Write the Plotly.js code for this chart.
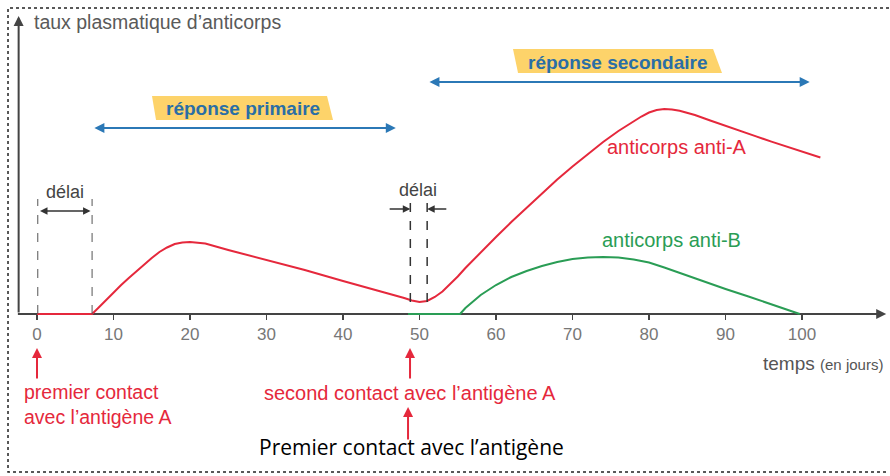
<!DOCTYPE html>
<html>
<head>
<meta charset="utf-8">
<script src="https://cdn.plot.ly/plotly-3.0.1.min.js"></script>
<style>html,body{margin:0;padding:0;background:#fff}#chart{width:890px;height:476px}</style>
</head>
<body>
<div id="chart"></div>
<script>
// Tick labels (days)
const tickDays = [0, 10, 20, 30, 40, 50, 60, 70, 80, 90, 100];

// Anti-A antibody curve (relative plasma level)
const antiA_x = [0, 7.2, 8, 9, 10, 11, 12, 13, 14, 15, 16, 17, 18, 19, 20, 21, 22, 25, 30, 35, 40, 45, 47, 48, 49, 50, 51, 52, 53, 54, 55, 56, 57, 58, 60, 62, 64, 66, 68, 70, 72, 74, 76, 78, 79, 80, 81, 82, 83, 84, 86, 88, 90, 92, 94, 96, 98, 100, 102.4];
const antiA_y = [0, 0, 6, 14, 21, 29, 36, 43, 50, 56, 62, 66.5, 70, 71.5, 72, 71.5, 70.5, 64, 54, 44, 33, 22.5, 18.5, 16, 13.5, 12, 13, 17, 22.5, 29.5, 37.5, 46, 54, 62, 77, 92, 106.5, 121, 134.5, 147.5, 160, 172, 183, 193, 197.5, 201.5, 204, 205, 204.6, 203.3, 199, 193.5, 188, 182.8, 177.6, 172.4, 167.2, 162, 156.5];

// Anti-B antibody curve
const antiB_x = [48.5, 55.3, 56, 57, 58, 59, 60, 62, 64, 66, 68, 70, 72, 74, 76, 78, 80, 82, 84, 87, 90, 93, 96, 99.7];
const antiB_y = [0, 0, 6, 13, 19, 24, 29, 37, 43, 48, 52, 55, 56.5, 57, 56.5, 54.5, 51.5, 46.5, 41, 33, 25, 17.5, 10, 0];

const RED = '#e5283c', GREEN = '#2a9d55', BLUE = '#2b78b6', YEL = '#fdd36a';
const F = 'Liberation Sans, Arial, sans-serif';

const traces = [
  {x: antiA_x, y: antiA_y, mode: 'lines', line: {color: RED, width: 2, shape: 'linear'}, hoverinfo: 'skip'},
  {x: antiB_x, y: antiB_y, mode: 'lines', line: {color: GREEN, width: 2, shape: 'linear'}, hoverinfo: 'skip'}
];

function arrow(x, y, ax, ay, color, width, both) {
  return {x: x, y: y, ax: ax, ay: ay, xref: 'x', yref: 'y', axref: 'x', ayref: 'y', text: '', showarrow: true,
    arrowhead: 2, arrowsize: 1, arrowwidth: width, arrowcolor: color, arrowside: both ? 'end+start' : 'end', standoff: 0, startstandoff: 0};
}
function txt(x, y, text, color, size, opts) {
  return Object.assign({x: x, y: y, xref: 'x', yref: 'y', text: text, showarrow: false, yanchor: 'middle',
    font: {family: F, size: size, color: color}}, opts || {});
}

const annotations = [
  // axes arrowheads
  arrow(111, 0, 104, 0, '#444', 2, false),
  arrow(-2.4, 298, -2.4, 0, '#444', 2, false),
  // blue response arrows
  arrow(46.9, 186, 7.3, 186, BLUE, 2, true),
  arrow(101, 232, 51.1, 232, BLUE, 2, true),
  // délai arrows
  arrow(7.0, 103, 0.2, 103, '#333', 1.5, true),
  arrow(48.8, 105, 45.9, 105, '#333', 1.5, false),
  arrow(51.0, 105, 53.7, 105, '#333', 1.5, false),
  // red contact arrows
  arrow(0, -34, 0, -66, RED, 2, false),
  arrow(48.76, -34, 48.76, -66, RED, 2, false),
  arrow(48.5, -93, 48.5, -127, RED, 2, false),
  // texts
  txt(-0.65, 292, "taux plasmatique d’anticorps", '#5a5a5a', 19.5, {xanchor: 'left'}),
  txt(26.9, 206, '<b>réponse primaire</b>', '#2a6ea6', 19),
  txt(76.0, 252, '<b>réponse secondaire</b>', '#2a6ea6', 19),
  txt(3.7, 122, 'délai', '#444', 18),
  txt(49.8, 124, 'délai', '#444', 18),
  txt(83.6, 167, 'anticorps anti-A', RED, 20),
  txt(82.9, 74, 'anticorps anti-B', GREEN, 20),
  txt(110.9, -49, 'temps <span style="font-size:15px">(en jours)</span>', '#555', 19, {xanchor: 'right'}),
  txt(-2.0, -90.5, 'premier contact<br>avec l’antigène A', RED, 19.5, {xanchor: 'left', align: 'left'}),
  txt(48.8, -79, 'second contact avec l’antigène A', RED, 20),
  txt(49.0, -133, 'Premier contact avec l’antigène', '#000', 21, {font: {family: 'Open Sans, sans-serif', size: 21, color: '#000'}})
];

const shapes = [
  // x axis line (below traces)
  {type: 'line', xref: 'x', yref: 'y', x0: -2.5, x1: 110, y0: 0, y1: 0, line: {color: '#444', width: 2}, layer: 'below'},
  // délai dashed lines
  {type: 'line', xref: 'x', yref: 'y', x0: 0.1, x1: 0.1, y0: 0, y1: 115, line: {color: '#555', width: 1, dash: 'dash'}},
  {type: 'line', xref: 'x', yref: 'y', x0: 7.2, x1: 7.2, y0: 0, y1: 115, line: {color: '#555', width: 1, dash: 'dash'}},
  {type: 'line', xref: 'x', yref: 'y', x0: 48.8, x1: 48.8, y0: 12, y1: 114, line: {color: '#333', width: 1.5, dash: 'dash'}},
  {type: 'line', xref: 'x', yref: 'y', x0: 51.0, x1: 51.0, y0: 12, y1: 114, line: {color: '#333', width: 1.5, dash: 'dash'}},
  // yellow label backgrounds
  {type: 'path', xref: 'x', yref: 'y', path: 'M 15.03 218 L 37.91 218 L 38.69 194 L 15.56 194 Z', fillcolor: YEL, line: {width: 0}, layer: 'below'},
  {type: 'path', xref: 'x', yref: 'y', path: 'M 62.22 265 L 88.37 265 L 89.54 241 L 62.88 241 Z', fillcolor: YEL, line: {width: 0}, layer: 'below'},
  // dotted frame
  {type: 'path', xref: 'x', yref: 'y', path: 'M 111.37 306 L -3.79 306 L -3.79 -158 L 111.37 -158', line: {color: '#222', width: 1.5, dash: 'dot'}}
];

const layout = {
  width: 890, height: 476,
  margin: {l: 0, r: 0, t: 0, b: 0, pad: 0},
  paper_bgcolor: '#fff', plot_bgcolor: 'rgba(0,0,0,0)',
  showlegend: false,
  xaxis: {range: [-4.837, 111.5], tickvals: tickDays, ticktext: tickDays.map(String), ticks: 'outside', ticklen: 5, tickwidth: 1.5, tickcolor: '#444',
    anchor: 'free', position: 0.3403, automargin: false,
    showline: false, zeroline: false, showgrid: false, tickfont: {family: F, size: 17, color: '#777'}, fixedrange: true},
  yaxis: {range: [-162, 314], visible: false, fixedrange: true},
  annotations: annotations,
  shapes: shapes
};

Plotly.newPlot('chart', traces, layout, {displayModeBar: false, staticPlot: true});
</script>
</body>
</html>
